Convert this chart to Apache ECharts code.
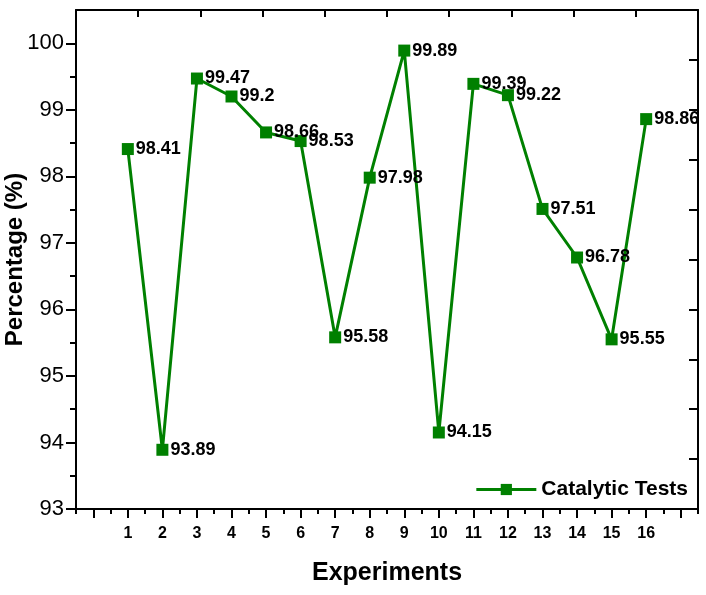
<!DOCTYPE html>
<html>
<head>
<meta charset="utf-8">
<script src="https://cdn.jsdelivr.net/npm/echarts@6/dist/echarts.min.js"></script>
<style>
  html, body { margin: 0; padding: 0; background: #fff; }
  #chart { width: 706px; height: 595px; }
</style>
</head>
<body>
<div id="chart"></div>
<script>
// data
const experiments = [1, 2, 3, 4, 5, 6, 7, 8, 9, 10, 11, 12, 13, 14, 15, 16]
const percentages = [98.41, 93.89, 99.47, 99.2, 98.66, 98.53, 95.58, 97.98, 99.89, 94.15, 99.39, 99.22, 97.51, 96.78, 95.55, 98.86]
const seriesName = 'Catalytic Tests'
const yTickLabels = [93, 94, 95, 96, 97, 98, 99, 100]
const mirrorTicks = [1, 2, 3, 4, 5, 6, 7, 8, 9]

const FONT = 'Liberation Sans, Arial, sans-serif'
const GREEN = '#008000'
const BLACK = '#000'

const xMajor = [0, ...experiments, experiments.length + 1]
const xMinor = [...xMajor.map((v) => v - 0.5), xMajor[xMajor.length - 1] + 0.5]
const yMinor = yTickLabels.slice(0, -1).map((v) => v + 0.5)

const chart = echarts.init(document.getElementById('chart'))

const hiddenLabel = { show: false }
const line = { show: true, onZero: false, lineStyle: { color: BLACK, width: 2 } }
const noLine = { show: false, onZero: false }

const option = {
  animation: false,
  grid: { left: 76, right: 8, top: 10, bottom: 86, containLabel: false, outerBoundsMode: 'none' },
  legend: {
    data: [seriesName],
    right: 18,
    top: 479,
    padding: 0,
    itemWidth: 60,
    itemHeight: 14,
    itemGap: 0,
    lineStyle: { width: 3 },
    textStyle: { fontFamily: FONT, fontSize: 21, fontWeight: 'bold', color: BLACK }
  },
  xAxis: [
    {
      type: 'value',
      position: 'bottom',
      min: -0.5,
      max: 17.5,
      name: 'Experiments',
      nameLocation: 'middle',
      nameGap: 52,
      nameMoveOverlap: false,
      nameTextStyle: { fontFamily: FONT, fontSize: 25, fontWeight: 'bold', color: BLACK },
      axisLine: line,
      splitLine: { show: false },
      axisTick: { show: true, inside: false, length: 9, customValues: xMajor, lineStyle: { color: BLACK, width: 2 } },
      axisLabel: {
        show: true,
        customValues: experiments,
        margin: 17,
        fontFamily: FONT,
        fontSize: 16,
        fontWeight: 'bold',
        color: BLACK
      }
    },
    {
      type: 'value',
      position: 'bottom',
      min: -0.5,
      max: 17.5,
      axisLine: noLine,
      splitLine: { show: false },
      axisTick: { show: true, inside: false, length: 5, customValues: xMinor, lineStyle: { color: BLACK, width: 2 } },
      axisLabel: hiddenLabel
    },
    {
      type: 'value',
      position: 'top',
      min: 0,
      max: 10,
      axisLine: line,
      splitLine: { show: false },
      axisTick: { show: true, inside: true, length: 7, customValues: mirrorTicks, lineStyle: { color: BLACK, width: 2 } },
      axisLabel: hiddenLabel
    }
  ],
  yAxis: [
    {
      type: 'value',
      position: 'left',
      min: 93,
      max: 100.5,
      name: 'Percentage (%)',
      nameLocation: 'middle',
      nameGap: 49,
      nameMoveOverlap: false,
      nameTextStyle: { fontFamily: FONT, fontSize: 24, fontWeight: 'bold', color: BLACK },
      axisLine: line,
      splitLine: { show: false },
      axisTick: { show: true, inside: false, length: 10, customValues: yTickLabels, lineStyle: { color: BLACK, width: 2 } },
      axisLabel: {
        show: true,
        customValues: yTickLabels,
        margin: 12,
        fontFamily: FONT,
        fontSize: 22,
        color: BLACK
      }
    },
    {
      type: 'value',
      position: 'left',
      min: 93,
      max: 100.5,
      axisLine: noLine,
      splitLine: { show: false },
      axisTick: { show: true, inside: false, length: 6, customValues: yMinor, lineStyle: { color: BLACK, width: 2 } },
      axisLabel: hiddenLabel
    },
    {
      type: 'value',
      position: 'right',
      min: 0,
      max: 10,
      axisLine: line,
      splitLine: { show: false },
      axisTick: { show: true, inside: true, length: 9, customValues: mirrorTicks, lineStyle: { color: BLACK, width: 2 } },
      axisLabel: hiddenLabel
    }
  ],
  series: [
    {
      name: seriesName,
      type: 'line',
      xAxisIndex: 0,
      yAxisIndex: 0,
      data: experiments.map((x, i) => [x, percentages[i]]),
      symbol: 'rect',
      symbolSize: 12,
      itemStyle: { color: GREEN },
      lineStyle: { color: GREEN, width: 3 },
      clip: false,
      label: {
        show: true,
        position: 'right',
        distance: 2,
        formatter: (p) => String(p.value[1]),
        fontFamily: FONT,
        fontSize: 18,
        fontWeight: 'bold',
        color: BLACK
      },
      labelLayout: { hideOverlap: false }
    }
  ]
}

chart.setOption(option)
</script>
</body>
</html>
